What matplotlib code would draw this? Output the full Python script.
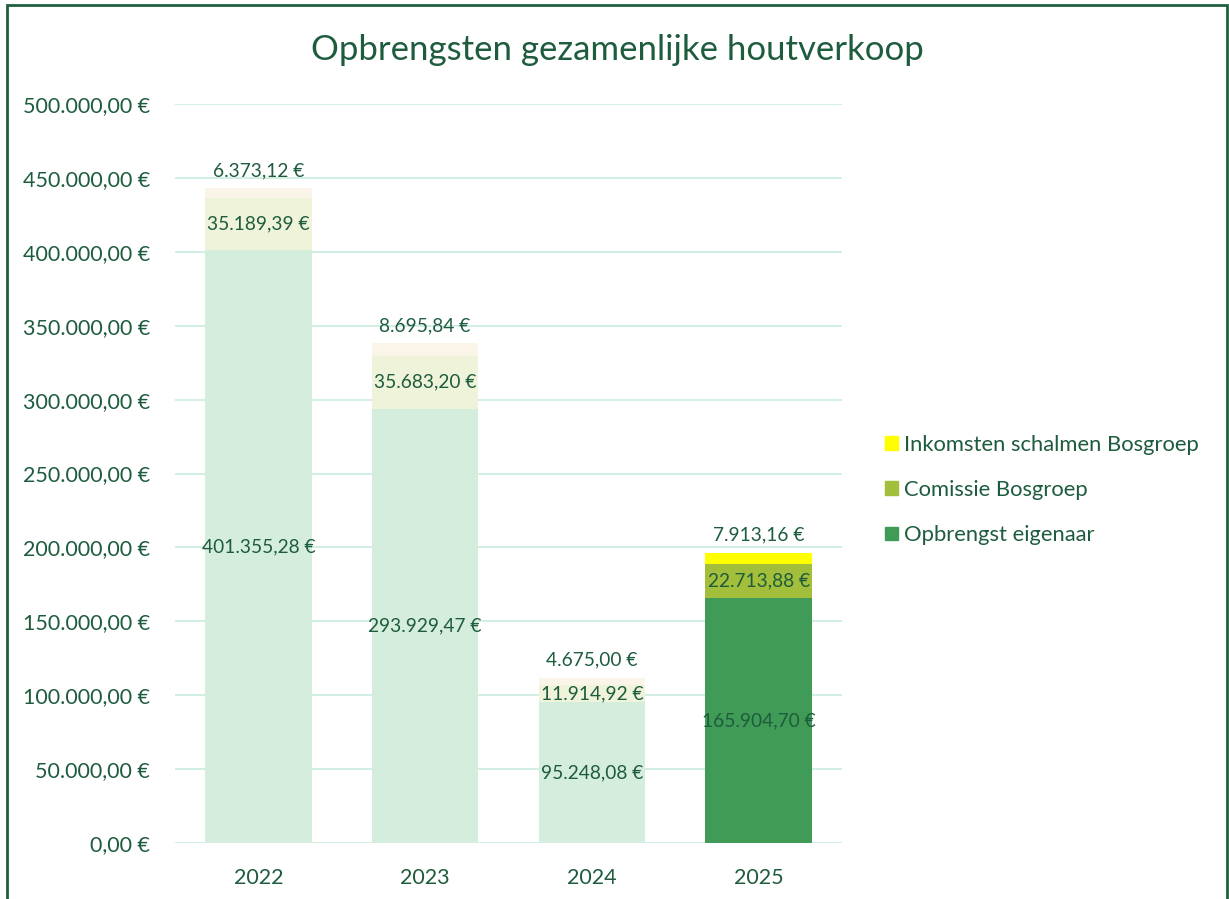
import matplotlib.pyplot as plt
import numpy as np
from matplotlib.patches import Rectangle

plt.rcParams['font.family'] = ['Lato', 'DejaVu Sans']

# === Data ===
years = ["2022", "2023", "2024", "2025"]
eigenaar = [401355.28, 293929.47, 95248.08, 165904.70]
comissie = [35189.39, 35683.20, 11914.92, 22713.88]
schalmen = [6373.12, 8695.84, 4675.00, 7913.16]
series_names = ["Opbrengst eigenaar", "Comissie Bosgroep", "Inkomsten schalmen Bosgroep"]
y_ticks = [0, 50000, 100000, 150000, 200000, 250000, 300000, 350000, 400000, 450000, 500000]

text_col = "#1E5C3E"
full_cols = ["#3F9B55", "#A2BE3A", "#FFFF00"]
faded_cols = ["#D5EDDC", "#EEF3DA", "#FBF5E9"]


def euro(v):
    s = f"{v:,.2f}".replace(",", "X").replace(".", ",").replace("X", ".")
    return s + " €"


fig = plt.figure(figsize=(12.29, 8.99), dpi=100)
ax = fig.add_axes([175 / 1229, 1 - 843 / 899, 667 / 1229, 739 / 899])

x = np.arange(len(years))
width = 0.64
bottoms = np.zeros(len(years))
layers = [eigenaar, comissie, schalmen]
for k, vals in enumerate(layers):
    cols = [faded_cols[k]] * 3 + [full_cols[k]]
    ax.bar(x, vals, width, bottom=bottoms, color=cols, zorder=2)
    for i, v in enumerate(vals):
        if k < 2:
            ax.text(x[i], bottoms[i] + v / 2, euro(v), ha="center", va="center",
                    fontsize=13.8, color=text_col, zorder=3)
        else:
            ax.text(x[i], bottoms[i] + v + 6000, euro(v), ha="center", va="bottom",
                    fontsize=13.8, color=text_col, zorder=3)
    bottoms = bottoms + np.array(vals)

ax.set_xlim(-0.5, len(years) - 0.5)
ax.set_ylim(0, 500000)
ax.set_yticks(y_ticks)
ax.set_yticklabels([euro(v) for v in y_ticks])
ax.set_xticks(x)
ax.set_xticklabels(years)
ax.tick_params(length=0, labelsize=15.5, colors=text_col)
ax.tick_params(axis="y", pad=18)
ax.tick_params(axis="x", pad=18)
ax.grid(axis="y", color="#CDEFE0", linewidth=1.3, zorder=0)
for s in ax.spines.values():
    s.set_visible(False)

fig.suptitle("Opbrengsten gezamenlijke houtverkoop", x=617 / 1229, y=1 - 50 / 899,
             va="center", fontsize=25, color=text_col)

# legend
handles = [Rectangle((0, 0), 1, 1, color=full_cols[k]) for k in (2, 1, 0)]
labels = [series_names[k] for k in (2, 1, 0)]
fig.legend(handles, labels, loc="center left", bbox_to_anchor=(865 / 1229, 1 - 490 / 899),
           frameon=False, fontsize=15.8, labelcolor=text_col, handlelength=0.6,
           handleheight=0.6, handletextpad=0.3, labelspacing=1.15)

# chart border
fig.add_artist(Rectangle((7 / 1229, -0.01), 1220 / 1229, 1 - 5 / 899 + 0.01,
                         transform=fig.transFigure, fill=False, edgecolor="#1F5F3F",
                         linewidth=2))

fig.savefig("out.png", dpi=100)
